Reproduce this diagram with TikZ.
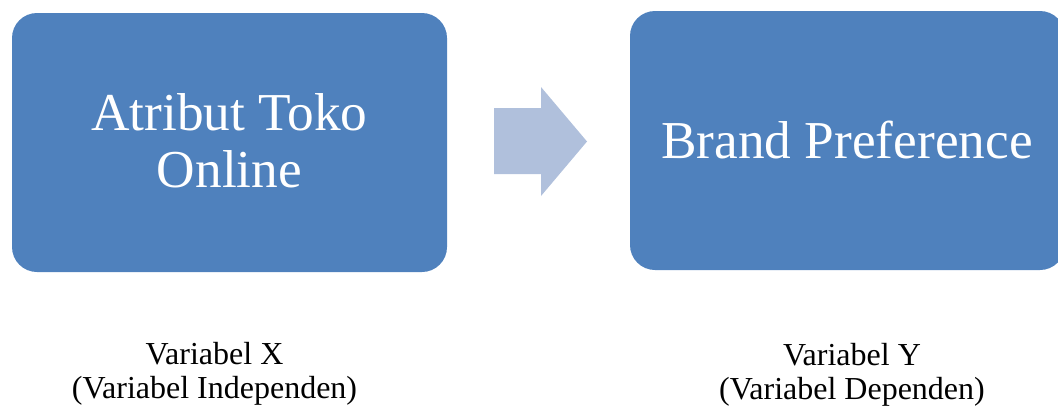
\documentclass[tikz,border=0pt]{standalone}
\usepackage{fontspec}
\setmainfont{Liberation Serif}
\definecolor{boxblue}{HTML}{4F81BD}
\definecolor{arrowblue}{HTML}{B0C0DC}
\begin{document}
\begin{tikzpicture}[x=1pt,y=-1pt,
  bigbox/.style={draw=none,fill=boxblue,rounded corners=25pt,minimum width=435pt,minimum height=259pt,inner sep=0pt},
  boxtext/.style={inner sep=0pt,text=white,align=center,font=\fontsize{53.3}{57}\selectfont},
  vlabel/.style={inner sep=0pt,align=center,anchor=north,font=\fontsize{32}{34}\selectfont}]
\useasboundingbox (0,0) rectangle (1058,407);
\node[bigbox] (x) at (229.5,142.5) {};
\node[boxtext] (xt) at (229.5,140.5) {Atribut Toko\\Online};
\node[bigbox] (y) at (847.5,140.5) {};
\node[boxtext] (yt) at (847,139.5) {Brand Preference};
\fill[arrowblue] (494,108) -- (541,108) -- (541,87) -- (587,141.5) -- (541,196) -- (541,174) -- (494,174) -- cycle;
\node[vlabel] (xl) at (214.5,342) {Variabel X\\(Variabel Independen)};
\node[vlabel] (yl) at (852,343) {Variabel Y\\(Variabel Dependen)};
\end{tikzpicture}
\end{document}
